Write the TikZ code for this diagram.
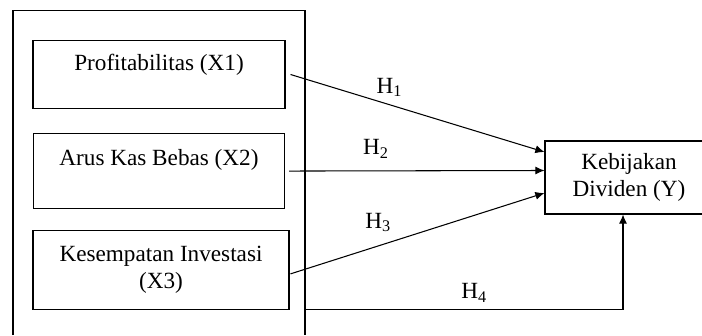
\documentclass[tikz,border=0pt]{standalone}
\usepackage{fontspec}
\setmainfont{Liberation Serif}
\usepackage{tikz}
\usetikzlibrary{positioning, calc, arrows.meta}

\begin{document}
\begin{tikzpicture}[box/.style = {draw, inner sep=0pt, align=center}, line width=0.6pt, font=\fontsize{13.2}{15}\selectfont, >={Latex[length=5.2pt, width=4.6pt]} ]

\useasboundingbox (0,0) rectangle (14.04,6.70);

% frame round the variables
\coordinate (frameNW) at (0.26,6.49);
\coordinate (frameNE) at (6.10,6.49);
\draw (0.26,0) -- (frameNW) -- (frameNE) -- (6.10,0);

% X1
\node[box, minimum width=5.04cm, text height=0.61cm, text depth=0.76cm] (X1) at (3.18,5.21) {Profitabilitas (X1)};

% X2
\node[box, minimum width=5.02cm, text height=0.64cm, text depth=0.85cm, below=0.48cm of X1] (X2) {Arus Kas Bebas (X2)};

% X3
\node[box, minimum width=5.12cm, minimum height=1.58cm, below=0.42cm of X2, xshift=0.04cm] (X3) {Kesempatan Investasi\\(X3)};

% Y
\node[box, minimum width=3.36cm, minimum height=1.46cm] (Y) at (12.58,3.15) {Kebijakan\\Dividen (Y)};

%--- X1 -> Y ---
\draw[->] ([xshift=0.1cm]X1.east) -- node[pos=0.39, yshift=0.35cm]{H\textsubscript{1}} ([yshift=0.51cm]Y.west);

%--- X2 -> Y ---
\draw[->] ([xshift=0.08cm]X2.east) -- node[pos=0.34, yshift=0.44cm]{H\textsubscript{2}} ([yshift=0.14cm]Y.west);

%--- X3 -> Y ---
\draw[->] ([xshift=0.02cm, yshift=-0.08cm]X3.east) -- node[pos=0.345, yshift=0.47cm]{H\textsubscript{3}} ([yshift=-0.31cm]Y.west);

%--- frame -> Y ---
\coordinate (h4) at (X3.south -| frameNE);
\draw[->] (h4) -| node[pos=0.266, yshift=0.34cm]{H\textsubscript{4}} ([xshift=-0.12cm]Y.south);

\end{tikzpicture}
\end{document}
